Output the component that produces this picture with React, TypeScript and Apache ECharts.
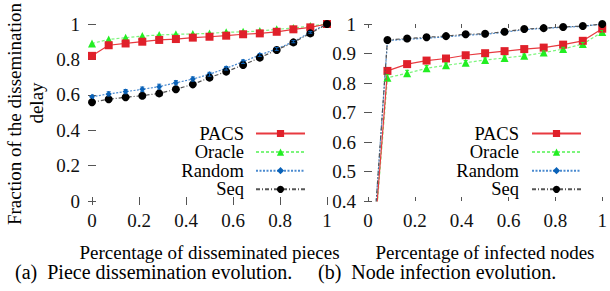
import React, { useEffect, useRef } from "react";
import * as echarts from "echarts";

// ---- data ----
const seriesNames = ["PACS", "Oracle", "Random", "Seq"];

const piecesX = [0, 0.071, 0.143, 0.214, 0.286, 0.357, 0.429, 0.5, 0.571, 0.643, 0.714, 0.786, 0.857, 0.929, 1];
const piecesPACS = [0.82, 0.88, 0.89, 0.9, 0.91, 0.915, 0.923, 0.928, 0.934, 0.942, 0.947, 0.956, 0.97, 0.981, 1];
const piecesOracle = [0.89, 0.913, 0.923, 0.932, 0.938, 0.942, 0.944, 0.947, 0.953, 0.956, 0.96, 0.97, 0.977, 0.989, 1];
const piecesRandom = [0.589, 0.605, 0.618, 0.631, 0.646, 0.668, 0.689, 0.716, 0.75, 0.787, 0.825, 0.859, 0.9, 0.953, 1];
const piecesRandomErr = [0.01, 0.012, 0.012, 0.013, 0.014, 0.012, 0.012, 0.011, 0.01, 0.01, 0.008, 0.008, 0.006, 0.005, 0];
const piecesSeq = [0.558, 0.575, 0.586, 0.595, 0.608, 0.631, 0.659, 0.697, 0.731, 0.768, 0.81, 0.853, 0.896, 0.947, 1];

const nodesX = [0, 0.083, 0.167, 0.25, 0.333, 0.417, 0.5, 0.583, 0.667, 0.75, 0.833, 0.917, 1];
const nodesPACS = [0, 0.841, 0.864, 0.876, 0.883, 0.894, 0.901, 0.908, 0.915, 0.92, 0.93, 0.943, 0.984];
const nodesOracle = [0, 0.818, 0.833, 0.85, 0.86, 0.869, 0.878, 0.885, 0.892, 0.903, 0.915, 0.932, 0.973];
const nodesOracleErr = [0, 0.01, 0.01, 0.009, 0.008, 0.007, 0.007, 0.007, 0.006, 0.006, 0.006, 0.005, 0.005];
const nodesRandom = [0, 0.944, 0.948, 0.952, 0.956, 0.962, 0.965, 0.972, 0.981, 0.985, 0.989, 0.992, 1];
const nodesSeq = [0, 0.946, 0.951, 0.955, 0.959, 0.965, 0.967, 0.974, 0.983, 0.986, 0.99, 0.993, 1];

const xTitles = ["Percentage of disseminated pieces", "Percentage of infected nodes"];
const yTitleLines = ["Fraction of the dissemination", "delay"];
const captions = ["(a)  Piece dissemination evolution.", "(b)  Node infection evolution."];

const FONT = "Liberation Serif";

const styles: Record<string, any> = {
  PACS: { color: "#e0202a", line: "#e83a40", symbol: "rect", size: 8, type: "solid" },
  Oracle: { color: "#22ee22", line: "#7cf57c", symbol: "triangle", size: 8, type: [3, 2] },
  Random: { color: "#0a62b8", line: "#4a8ad0", symbol: "diamond", size: 6, type: [2, 1.5] },
  Seq: { color: "#000000", line: "#555555", symbol: "circle", size: 8, type: [4, 2, 1, 2] },
};

function lineSeries(name: string, xs: number[], ys: number[], idx: number) {
  const s = styles[name];
  return {
    type: "line",
    name,
    xAxisIndex: idx,
    yAxisIndex: idx,
    data: xs.map((x, i) => [x, ys[i]]),
    symbol: s.symbol,
    symbolSize: s.size,
    showAllSymbol: true,
    clip: true,
    itemStyle: { color: s.color },
    lineStyle: { color: s.line, width: 1.2, type: s.type },
    z: name === "PACS" ? 4 : name === "Seq" ? 5 : 3,
  };
}

function errSeries(xs: number[], ys: number[], es: number[], idx: number, color: string) {
  return {
    type: "custom",
    xAxisIndex: idx,
    yAxisIndex: idx,
    data: xs.map((x, i) => [x, ys[i], es[i]]).filter((d) => d[2] > 0),
    clip: true,
    z: 6,
    renderItem: (params: any, api: any) => {
      const x = api.value(0);
      const y = api.value(1);
      const e = api.value(2);
      const lo = api.coord([x, y - e]);
      const hi = api.coord([x, y + e]);
      const st = { stroke: color, lineWidth: 1 };
      return {
        type: "group",
        children: [
          { type: "line", shape: { x1: lo[0], y1: lo[1], x2: hi[0], y2: hi[1] }, style: st },
          { type: "line", shape: { x1: lo[0] - 2, y1: lo[1], x2: lo[0] + 2, y2: lo[1] }, style: st },
          { type: "line", shape: { x1: hi[0] - 2, y1: hi[1], x2: hi[0] + 2, y2: hi[1] }, style: st },
        ],
      };
    },
  };
}

const tickStyle = { show: true, inside: true, length: 4, lineStyle: { color: "#555", width: 1 } };
const labelStyle = { fontFamily: FONT, fontSize: 19, color: "#111" };

function axes(idx: number, ymin: number, yint: number) {
  const xs = [
    {
      type: "value", gridIndex: idx, min: 0, max: 1, interval: 0.2, position: "bottom",
      axisLine: { show: false }, splitLine: { show: false }, axisTick: tickStyle,
      axisLabel: { ...labelStyle, margin: 10 },
    },
    {
      type: "value", gridIndex: idx, min: 0, max: 1, interval: 0.2, position: "top",
      axisLine: { show: false }, splitLine: { show: false }, axisTick: tickStyle,
      axisLabel: { show: false },
    },
  ];
  const ys = [
    {
      type: "value", gridIndex: idx, min: ymin, max: 1, interval: yint, position: "left",
      axisLine: { show: false }, splitLine: { show: false }, axisTick: tickStyle,
      axisLabel: { ...labelStyle, margin: 12 },
    },
    {
      type: "value", gridIndex: idx, min: ymin, max: 1, interval: yint, position: "right",
      axisLine: { show: false }, splitLine: { show: false }, axisTick: tickStyle,
      axisLabel: { show: false },
    },
  ];
  return { xs, ys };
}

function legend(right: number, gapPad: number) {
  return {
    orient: "vertical",
    right,
    top: 124,
    padding: 0,
    align: "right",
    itemWidth: 49,
    itemHeight: 9,
    itemGap: -0.4,
    data: seriesNames,
    selectedMode: false,
    textStyle: { fontFamily: FONT, fontSize: 18.5, lineHeight: 18, color: "#000", padding: [0, gapPad, 0, 0] },
  };
}

function txt(x: number, y: number, text: string, align: string, size: number, rotation = 0) {
  return {
    type: "text", x, y, rotation,
    style: {
      text, fontFamily: FONT, fontSize: size, lineHeight: 16, fill: "#000",
      textAlign: align, textVerticalAlign: "middle",
    },
  };
}

export default function App() {
  const ref = useRef<HTMLDivElement>(null);
  useEffect(() => {
    if (!ref.current) return;
    const chart = echarts.init(ref.current, null, { renderer: "svg" });
    const a0 = axes(0, 0, 0.2);
    const a1 = axes(1, 0.4, 0.1);
    const option: any = {
      animation: false,
      backgroundColor: "#ffffff",
      textStyle: { fontFamily: FONT },
      grid: [
        { left: 92, top: 24, width: 235, height: 177 },
        { left: 368, top: 24, width: 235, height: 177 },
      ],
      xAxis: [...a0.xs, ...a1.xs],
      yAxis: [...a0.ys, ...a1.ys],
      legend: [legend(304, 7), legend(28, 8)],
      series: [
        lineSeries("Oracle", piecesX, piecesOracle, 0),
        lineSeries("PACS", piecesX, piecesPACS, 0),
        lineSeries("Random", piecesX, piecesRandom, 0),
        lineSeries("Seq", piecesX, piecesSeq, 0),
        errSeries(piecesX, piecesRandom, piecesRandomErr, 0, "#0a62b8"),
        lineSeries("Oracle", nodesX, nodesOracle, 2),
        lineSeries("PACS", nodesX, nodesPACS, 2),
        lineSeries("Random", nodesX, nodesRandom, 2),
        lineSeries("Seq", nodesX, nodesSeq, 2),
        errSeries(nodesX, nodesOracle, nodesOracleErr, 2, "#22ee22"),
      ],
      graphic: [
        txt(209.5, 252, xTitles[0], "center", 19),
        txt(485, 252, xTitles[1], "center", 19),
        txt(14, 114, yTitleLines[0], "center", 19, Math.PI / 2),
        txt(36, 103, yTitleLines[1], "center", 19, Math.PI / 2),
        txt(15, 272, captions[0], "left", 20),
        txt(318, 272, captions[1], "left", 20),
      ],
    };
    chart.setOption(option);
    return () => chart.dispose();
  }, []);
  return <div ref={ref} style={{ width: 610, height: 291, position: "absolute", left: 0, top: 0 }} />;
}
